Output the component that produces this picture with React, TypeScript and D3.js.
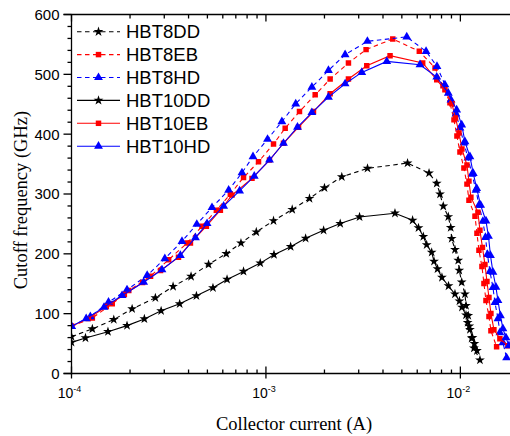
import React from "react";
import * as d3 from "d3";

const HBT8DD_I = [1.00e-4,1.28e-4,1.65e-4,2.05e-4,2.70e-4,3.33e-4,4.12e-4,5.07e-4,6.25e-4,7.44e-4,8.92e-4,1.094e-3,1.365e-3,1.675e-3,2.00e-3,2.456e-3,3.33e-3,5.35e-3,6.90e-3,7.56e-3,7.86e-3,8.17e-3,8.67e-3,8.92e-3,9.02e-3,9.38e-3,9.75e-3,9.87e-3,1.016e-2,1.056e-2,1.069e-2,1.098e-2,1.111e-2,1.143e-2,1.174e-2,1.261e-2];
const HBT8DD_F = [61.6,74.5,90.1,108.0,126.5,145.4,162.2,182.3,200.3,218.0,236.5,255.3,274.1,292.5,310.3,328.7,342.8,351.7,335.0,317.7,299.7,279.6,262.0,243.9,225.4,207.0,189.0,172.3,152.6,132.8,113.6,96.8,79.2,59.0,42.3,22.5];

const HBT8EB_I = [1.00e-4,1.28e-4,1.62e-4,1.97e-4,2.55e-4,3.16e-4,3.93e-4,4.69e-4,5.56e-4,6.56e-4,7.67e-4,9.16e-4,1.094e-3,1.256e-3,1.488e-3,1.792e-3,2.139e-3,2.657e-3,3.274e-3,4.491e-3,6.15e-3,7.41e-3,8.14e-3,8.84e-3,9.27e-3,9.60e-3,9.95e-3,1.043e-2,1.081e-2,1.107e-2,1.189e-2,1.217e-2,1.246e-2,1.291e-2,1.322e-2,1.354e-2,1.403e-2,1.436e-2,1.536e-2];
const HBT8EB_F = [78.8,92.9,116.4,138.7,162.7,190.2,218.0,246.1,272.9,299.7,327.7,353.9,383.6,409.9,437.8,465.8,492.1,519.0,541.3,559.2,538.4,510.6,480.9,452.4,423.9,397.0,370.2,343.3,316.5,289.7,262.8,234.3,205.8,179.0,150.5,121.9,95.1,71.6,44.8];

const HBT8HD_I = [1.00e-4,1.25e-4,1.55e-4,1.93e-4,2.45e-4,3.02e-4,3.70e-4,4.41e-4,5.28e-4,6.43e-4,7.53e-4,8.58e-4,1.019e-3,1.208e-3,1.423e-3,1.723e-3,2.097e-3,2.554e-3,3.325e-3,5.30e-3,6.66e-3,7.58e-3,8.33e-3,8.95e-3,9.49e-3,9.95e-3,1.043e-2,1.094e-2,1.147e-2,1.203e-2,1.246e-2,1.306e-2,1.346e-2,1.378e-2,1.419e-2,1.471e-2,1.506e-2,1.561e-2,1.597e-2,1.655e-2,1.729e-2];
const HBT8HD_F = [78.8,95.1,119.1,139.9,163.9,191.9,220.9,249.4,277.4,306.4,335.5,362.3,391.5,421.0,450.7,478.7,506.5,532.9,555.2,562.6,538.4,513.2,482.6,457.4,433.9,410.4,385.3,360.1,333.3,306.4,281.3,254.4,227.6,199.1,170.6,143.7,118.6,91.7,68.3,51.5,26.3];

const HBT10DD_I = [1.00e-4,1.18e-4,1.54e-4,1.93e-4,2.37e-4,2.89e-4,3.60e-4,4.39e-4,5.34e-4,6.31e-4,7.67e-4,9.35e-4,1.10e-3,1.34e-3,1.60e-3,1.98e-3,2.41e-3,3.03e-3,4.61e-3,5.68e-3,6.09e-3,6.45e-3,6.71e-3,7.12e-3,7.32e-3,7.63e-3,8.04e-3,8.69e-3,9.38e-3,9.89e-3,1.019e-2,1.069e-2,1.090e-2,1.120e-2,1.154e-2,1.181e-2,1.217e-2];
const HBT10DD_F = [52.0,59.4,69.9,80.0,91.2,104.7,116.4,129.8,143.2,157.2,170.6,184.5,198.6,212.0,225.9,239.3,250.6,261.7,267.9,256.1,243.5,228.8,215.0,202.4,187.4,174.8,160.5,146.3,132.8,121.1,110.7,97.6,85.0,73.3,59.9,49.8,38.1];

const HBT10EB_I = [1.00e-4,1.22e-4,1.51e-4,1.87e-4,2.32e-4,2.87e-4,3.55e-4,4.09e-4,4.94e-4,5.83e-4,6.69e-4,8.48e-4,1.043e-3,1.231e-3,1.471e-3,1.756e-3,2.139e-3,2.657e-3,3.301e-3,4.349e-3,6.40e-3,7.56e-3,8.33e-3,9.05e-3,9.44e-3,9.84e-3,1.019e-2,1.081e-2,1.107e-2,1.133e-2,1.231e-2,1.261e-2,1.299e-2,1.338e-2,1.370e-2,1.403e-2,1.436e-2,1.488e-2,1.597e-2,1.756e-2];
const HBT10EB_F = [78.8,91.7,111.9,132.0,152.1,172.3,194.1,218.0,246.1,272.9,298.1,326.1,356.8,384.8,411.6,437.8,467.5,492.1,514.4,531.2,519.0,490.9,474.2,450.7,427.2,402.0,375.2,348.4,321.5,294.7,269.5,239.3,210.8,182.3,153.8,127.0,100.1,73.3,58.2,46.5];

const HBT10HD_I = [1.00e-4,1.19e-4,1.47e-4,1.82e-4,2.35e-4,2.92e-4,3.63e-4,4.34e-4,4.98e-4,6.06e-4,7.32e-4,8.71e-4,1.043e-3,1.231e-3,1.453e-3,1.723e-3,2.097e-3,2.554e-3,3.112e-3,4.183e-3,6.20e-3,7.56e-3,8.67e-3,9.57e-3,1.016e-2,1.056e-2,1.120e-2,1.165e-2,1.213e-2,1.271e-2,1.354e-2,1.395e-2,1.428e-2,1.471e-2,1.524e-2,1.561e-2,1.607e-2,1.655e-2,1.715e-2,1.777e-2];
const HBT10HD_F = [78.8,91.7,110.7,130.3,152.6,173.4,197.4,227.1,250.6,279.6,305.3,329.9,356.8,384.8,411.6,436.1,461.9,484.2,503.2,521.6,516.1,495.5,468.6,440.6,415.5,387.5,362.3,334.5,309.3,281.3,254.9,229.3,197.4,169.4,144.2,121.9,96.8,75.0,59.9,46.5];

const SERIES_NAMES = ["HBT8DD", "HBT8EB", "HBT8HD", "HBT10DD", "HBT10EB", "HBT10HD"];
const Y_TICKS = [0, 100, 200, 300, 400, 500, 600];
const X_MAJOR = [1e-4, 1e-3, 1e-2];
const X_MAJOR_EXP = ["-4", "-3", "-2"];
const X_DOMAIN = [1e-4, 0.018];
const Y_DOMAIN = [0, 600];

type Series = { name: string; xs: number[]; ys: number[]; color: string; dashed: boolean; marker: d3.SymbolType; size: number };

const series: Series[] = [
  { name: SERIES_NAMES[0], xs: HBT8DD_I, ys: HBT8DD_F, color: "#000000", dashed: true, marker: d3.symbolStar, size: 30 },
  { name: SERIES_NAMES[1], xs: HBT8EB_I, ys: HBT8EB_F, color: "#ff0000", dashed: true, marker: d3.symbolSquare, size: 30 },
  { name: SERIES_NAMES[2], xs: HBT8HD_I, ys: HBT8HD_F, color: "#0000ff", dashed: true, marker: d3.symbolTriangle, size: 34 },
  { name: SERIES_NAMES[3], xs: HBT10DD_I, ys: HBT10DD_F, color: "#000000", dashed: false, marker: d3.symbolStar, size: 30 },
  { name: SERIES_NAMES[4], xs: HBT10EB_I, ys: HBT10EB_F, color: "#ff0000", dashed: false, marker: d3.symbolSquare, size: 30 },
  { name: SERIES_NAMES[5], xs: HBT10HD_I, ys: HBT10HD_F, color: "#0000ff", dashed: false, marker: d3.symbolTriangle, size: 34 },
];

const W = 510, H = 436;
const L = 71.5, R = 510, T = 14.5, B = 373.5;

export default function App() {
  const x = d3.scaleLog().domain(X_DOMAIN).range([L, R]);
  const y = d3.scaleLinear().domain(Y_DOMAIN).range([B, T]);

  const minorX: number[] = [];
  for (let e = -4; e <= -2; e++) {
    for (let k = 2; k <= 9; k++) {
      const v = k * Math.pow(10, e);
      if (v < X_DOMAIN[1]) minorX.push(v);
    }
  }
  const minorY = d3.range(0, 601, 20).filter((v) => v % 100 !== 0);

  const line = d3.line<[number, number]>().x((d) => x(d[0])).y((d) => y(d[1]));
  const sans = "'Liberation Sans', Arial, sans-serif";
  const serif = "'Liberation Serif', 'Times New Roman', serif";

  return (
    <svg width={W} height={H} style={{ position: "absolute", left: 0, top: 0, background: "#fff" }}>
      <defs>
        <clipPath id="plot">
          <rect x={L} y={0} width={R - L} height={B + 2} />
        </clipPath>
      </defs>
      <g clipPath="url(#plot)">
        {series.map((s) => {
          const pts = s.xs.map((v, i) => [v, s.ys[i]] as [number, number]);
          const sym = d3.symbol().type(s.marker).size(s.size)();
          return (
            <g key={s.name}>
              <path d={line(pts) || ""} fill="none" stroke={s.color} strokeWidth={1.1} strokeDasharray={s.dashed ? "4.5,3.5" : undefined} />
              {pts.map((p, i) => (
                <path key={i} d={sym || ""} transform={`translate(${x(p[0])},${y(p[1])})`} fill={s.color} />
              ))}
            </g>
          );
        })}
      </g>
      <g stroke="#000" strokeWidth={1.3} fill="none">
        <line x1={L} y1={T} x2={L} y2={B + 1} />
        <line x1={L - 8} y1={B} x2={R} y2={B} />
        <line x1={L - 8} y1={T} x2={R} y2={T} />
        {Y_TICKS.map((v) => (
          <line key={"yt" + v} x1={L - 8} x2={L} y1={y(v)} y2={y(v)} />
        ))}
        {minorY.map((v) => (
          <line key={"ym" + v} x1={L - 4} x2={L} y1={y(v)} y2={y(v)} />
        ))}
        {X_MAJOR.map((v) => (
          <g key={"xt" + v}>
            <line x1={x(v)} x2={x(v)} y1={B + 5} y2={B - 7} />
            <line x1={x(v)} x2={x(v)} y1={T} y2={T + 7} />
          </g>
        ))}
        {minorX.map((v) => (
          <g key={"xm" + v}>
            <line x1={x(v)} x2={x(v)} y1={B} y2={B - 4} />
            <line x1={x(v)} x2={x(v)} y1={T} y2={T + 4} />
          </g>
        ))}
      </g>
      {Y_TICKS.map((v) => (
        <text key={"yl" + v} x={L - 12} y={y(v)} dy="0.36em" textAnchor="end" fontFamily={sans} fontSize={15} fill="#000">
          {v}
        </text>
      ))}
      {X_MAJOR.map((v, i) => (
        <text key={"xl" + v} x={x(v) - 2} y={B + 24} textAnchor="middle" fontFamily={sans} fontSize={14} fill="#000">
          <tspan>10</tspan>
          <tspan dy={-6} fontSize={9}>{X_MAJOR_EXP[i]}</tspan>
        </text>
      ))}
      <text x={294} y={430} textAnchor="middle" fontFamily={serif} fontSize={18.5} fill="#000">
        Collector current (A)
      </text>
      <text transform="translate(27,200) rotate(-90)" textAnchor="middle" fontFamily={serif} fontSize={18.5} fill="#000">
        Cutoff frequency (GHz)
      </text>
      {series.map((s, i) => {
        const ly = 31.7 + i * 22.9;
        const sym = d3.symbol().type(s.marker).size(s.size)();
        return (
          <g key={"lg" + s.name}>
            <line x1={77} x2={120} y1={ly} y2={ly} stroke={s.color} strokeWidth={1.1} strokeDasharray={s.dashed ? "4.5,3.5" : undefined} />
            <path d={sym || ""} transform={`translate(98.5,${ly})`} fill={s.color} />
            <text x={126} y={ly} dy="0.36em" fontFamily={sans} fontSize={18.5} fill="#000">
              {s.name}
            </text>
          </g>
        );
      })}
    </svg>
  );
}
